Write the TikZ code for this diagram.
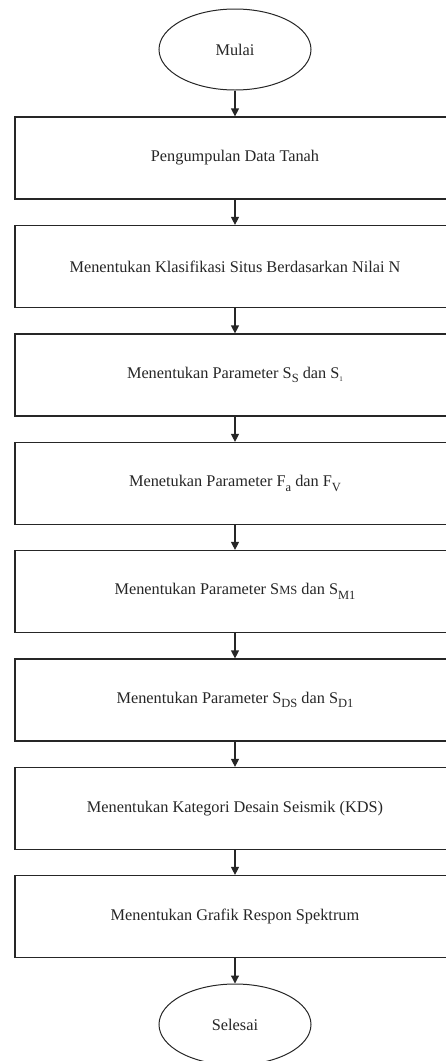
\documentclass[tikz,border=0pt]{standalone}
\usepackage{fontspec}
\setmainfont{Liberation Serif}
\usetikzlibrary{arrows.meta,shapes.geometric}
\tikzset{
  stepbox/.style={draw=black!85, line width=1.2pt, minimum width=440pt, minimum height=82pt, inner sep=0pt, font=\fontsize{16.3}{19}\selectfont, text=black!85},
  term/.style={draw=black!85, line width=1pt, ellipse, minimum width=152pt, minimum height=81pt, inner sep=0pt, font=\fontsize{16.3}{19}\selectfont, text=black!85},
  flow/.style={draw=black!85, line width=1.2pt, -{Triangle[width=8pt,length=8pt]}}
}
\newcommand{\sbs}[1]{\raisebox{-0.28em}{\fontsize{12.5}{14}\selectfont #1}}
\begin{document}
\begin{tikzpicture}[x=1pt,y=-1pt]
\useasboundingbox (0,0) rectangle (445,1061);
\node[term] (start) at (235,49.5) {Mulai};
\node[stepbox] (b1) at (235,158) {Pengumpulan Data Tanah};
\node[stepbox] (b2) at (235,266.5) {Menentukan Klasifikasi Situs Berdasarkan Nilai N};
\node[stepbox] (b3) at (235,375) {Menentukan Parameter S\sbs{S} dan S\raisebox{-0.2em}{\fontsize{7}{8}\selectfont 1}};
\node[stepbox] (b4) at (235,483.5) {Menetukan Parameter F\sbs{a} dan F\sbs{V}};
\node[stepbox] (b5) at (235,591.5) {Menentukan Parameter S{\fontsize{12.5}{14}\selectfont MS} dan S\sbs{M1}};
\node[stepbox] (b6) at (235,700) {Menentukan Parameter S\sbs{DS} dan S\sbs{D1}};
\node[stepbox] (b7) at (235,808.5) {Menentukan Kategori Desain Seismik (KDS)};
\node[stepbox] (b8) at (235,916.5) {Menentukan Grafik Respon Spektrum};
\node[term] (end) at (235,1024.5) {Selesai};
\draw[flow] (start) -- (b1);
\draw[flow] (b1) -- (b2);
\draw[flow] (b2) -- (b3);
\draw[flow] (b3) -- (b4);
\draw[flow] (b4) -- (b5);
\draw[flow] (b5) -- (b6);
\draw[flow] (b6) -- (b7);
\draw[flow] (b7) -- (b8);
\draw[flow] (b8) -- (end);
\end{tikzpicture}
\end{document}
